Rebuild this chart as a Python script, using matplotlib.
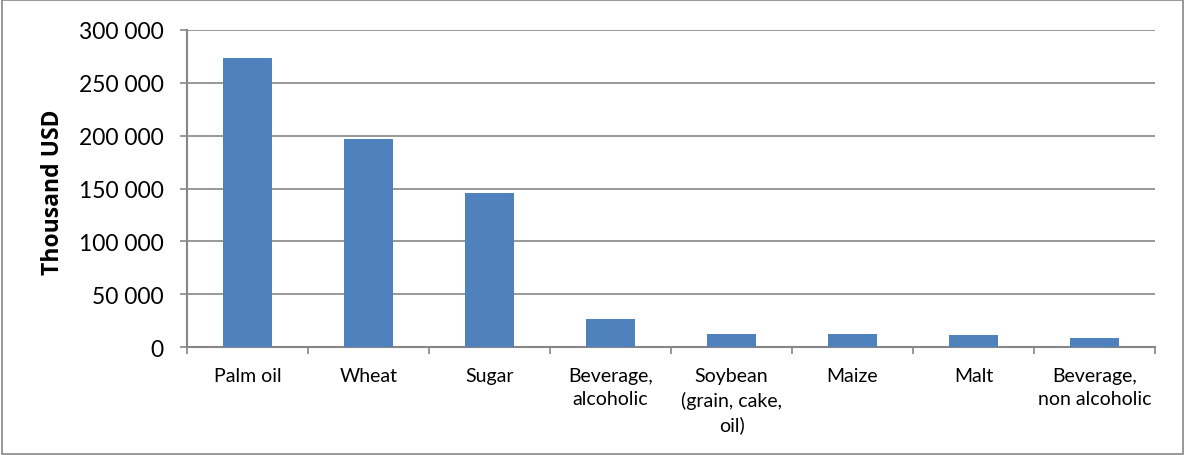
import numpy as np
import matplotlib
matplotlib.use("Agg")
from matplotlib import pyplot as plt
from matplotlib.patches import Rectangle
from matplotlib.ticker import FuncFormatter, FixedLocator

# data (thousand USD)
products = ["Palm oil", "Wheat", "Sugar", "Beverage,\nalcoholic",
            "Soybean\n(grain, cake,\noil)", "Maize", "Malt",
            "Beverage,\nnon alcoholic"]
values = [273300, 197200, 145900, 26400, 12900, 12300, 11300, 9100]
yticks = [0, 50000, 100000, 150000, 200000, 250000, 300000]

grey = "#868686"
blue = "#4F81BD"

plt.rcParams['font.family'] = ['Lato', 'DejaVu Sans']

fig = plt.figure(figsize=(11.85, 4.56), dpi=100)
ax = fig.add_axes([187/1185, 1-348.3/456, (1155-187)/1185, (348.3-30.7)/456])

x = np.arange(len(products))
ax.bar(x, values, width=0.4, color=blue, zorder=3)

ax.set_xlim(-0.5, len(products)-0.5)
ax.set_ylim(0, 300000)
ax.set_yticks(yticks)
ax.yaxis.set_major_formatter(FuncFormatter(lambda v, p: f"{int(v):,}".replace(",", " ")))
ax.grid(axis="y", color=grey, lw=1.2, zorder=0)

# category labels centred, ticks at boundaries
ax.set_xticks(x)
ax.set_xticklabels(products, fontsize=14, linespacing=1.45, va="top")
ax.tick_params(axis="x", which="major", length=0, pad=14)
ax.xaxis.set_minor_locator(FixedLocator(np.arange(-0.5, len(products), 1.0)))
ax.tick_params(axis="x", which="minor", length=5, width=1.2, color=grey, direction="out")
ax.tick_params(axis="y", length=5, width=1.2, color=grey, labelsize=16.5, pad=12)

for s in ["top", "right"]:
    ax.spines[s].set_visible(False)
for s in ["left", "bottom"]:
    ax.spines[s].set_color(grey)
    ax.spines[s].set_linewidth(1.5)

ax.set_ylabel("Thousand USD", fontsize=16.5, fontweight="bold",
              family=["Open Sans", "DejaVu Sans"])
ax.yaxis.set_label_coords(-0.126, 0.492)

# chart area border
fig.patches.append(Rectangle((0.002, 0.003), 0.996, 0.994, transform=fig.transFigure,
                             fill=False, edgecolor=grey, lw=1.2))

fig.savefig("out.png", dpi=100)
